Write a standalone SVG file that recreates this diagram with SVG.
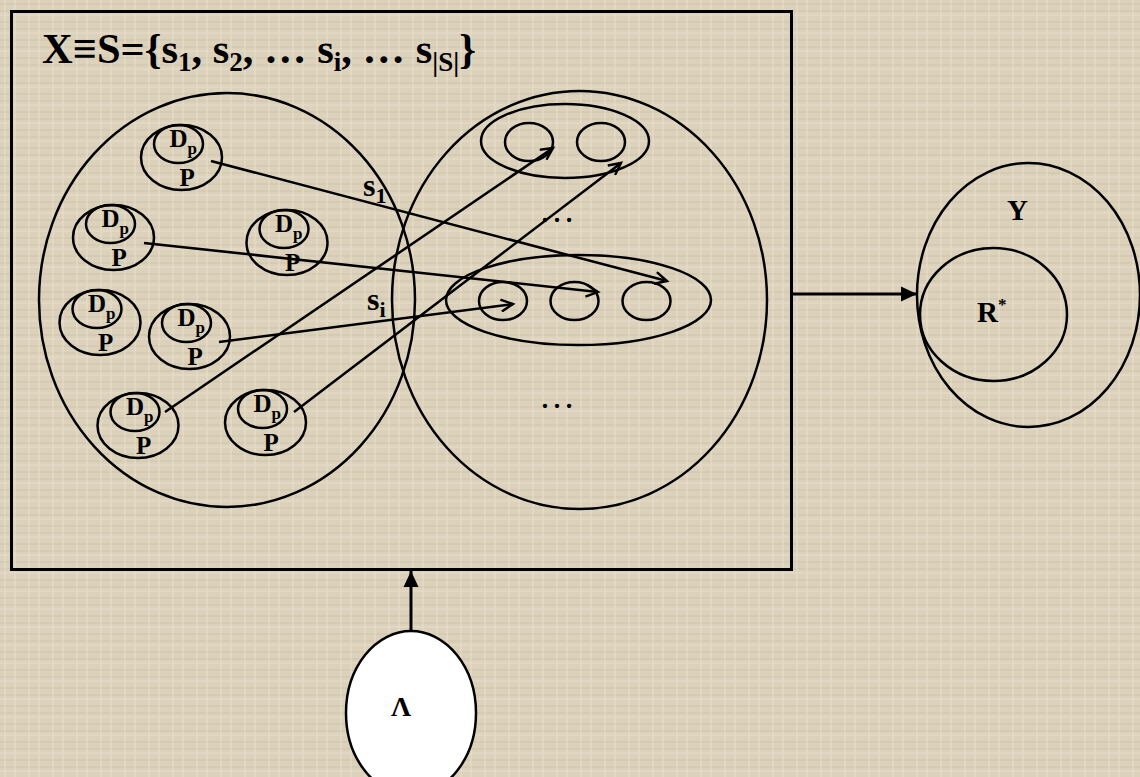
<svg xmlns="http://www.w3.org/2000/svg" width="1140" height="777" viewBox="0 0 1140 777">
  <defs>
    <pattern id="tex" width="24" height="18" patternUnits="userSpaceOnUse">
      <rect width="24" height="18" fill="#dcd2bc"/>
      <path d="M0,4 H24 M0,11 H24" stroke="#cfc4ab" stroke-width="1"/>
      <path d="M5,0 V18 M15,0 V18" stroke="#e8dfcc" stroke-width="1"/>
      <path d="M0,15 H24" stroke="#e6ddca" stroke-width="1"/>
    </pattern>
    <marker id="open" markerUnits="userSpaceOnUse" markerWidth="16" markerHeight="14" refX="13" refY="7" orient="auto">
      <path d="M1,1 L13,7 L1,13" fill="none" stroke="#000" stroke-width="2.4"/>
    </marker>
    <marker id="solid" markerUnits="userSpaceOnUse" markerWidth="18" markerHeight="16" refX="16" refY="8" orient="auto">
      <path d="M0,0.5 L16,8 L0,15.5 Z" fill="#000"/>
    </marker>
  </defs>
  <style>
    .ln { fill: none; stroke: #000; stroke-width: 2.5; }
    .thick { fill: none; stroke: #000; stroke-width: 3; }
    .t { font-family: "Liberation Serif", "Times New Roman", serif; font-weight: bold; fill: #000; }
    .title { font-size: 42.5px; }
    .sub { font-size: 27px; }
    .nd { font-size: 25px; }
    .nds { font-size: 17px; }
    .lbl { font-size: 32px; }
    .lbls { font-size: 22px; }
    .dots { font-family: "Liberation Serif", "Times New Roman", serif; font-size: 36px; fill: #000; }
  </style>

  <rect width="1140" height="777" fill="url(#tex)"/>

  <g id="frame">
    <rect x="11.5" y="11.5" width="780" height="558" class="thick"/>
    <text class="t title" x="42" y="63">X≡S={s<tspan class="sub" dy="8">1</tspan><tspan dy="-8">, s</tspan><tspan class="sub" dy="8">2</tspan><tspan dy="-8">, … s</tspan><tspan class="sub" dy="8">i</tspan><tspan dy="-8">, … s</tspan><tspan class="sub" dy="8">|S|</tspan><tspan dy="-8">}</tspan></text>
  </g>

  <g id="set-left">
    <ellipse cx="227" cy="300" rx="188" ry="207" class="ln"/>
  </g>

  <g id="set-right">
    <ellipse cx="579.5" cy="300" rx="187.5" ry="209" class="ln"/>
    <text class="dots" x="539" y="222">…</text>
    <text class="dots" x="539" y="408">…</text>
  </g>

  <g id="group-top">
    <ellipse cx="565" cy="141" rx="84" ry="37" class="ln"/>
    <ellipse cx="529" cy="142" rx="24" ry="19" class="ln"/>
    <ellipse cx="601" cy="142" rx="24" ry="19" class="ln"/>
  </g>

  <g id="group-mid">
    <ellipse cx="578.5" cy="300" rx="132.5" ry="45" class="ln"/>
    <ellipse cx="503" cy="301" rx="24" ry="19" class="ln"/>
    <ellipse cx="574.5" cy="301" rx="24" ry="19" class="ln"/>
    <ellipse cx="646.5" cy="301" rx="24" ry="19" class="ln"/>
  </g>

  <g id="node-1" transform="translate(181.5,157.5)">
    <ellipse cx="0" cy="0" rx="40.5" ry="32.5" class="ln"/>
    <ellipse cx="-3" cy="-13.5" rx="24.5" ry="19" class="ln"/>
    <text class="t nd" x="-12" y="-10.5">D<tspan class="nds" dy="7">p</tspan></text>
    <text class="t nd" x="-2" y="28.5">P</text>
  </g>
  <g id="node-2" transform="translate(113.5,237.5)">
    <ellipse cx="0" cy="0" rx="40.5" ry="32.5" class="ln"/>
    <ellipse cx="-3" cy="-13.5" rx="24.5" ry="19" class="ln"/>
    <text class="t nd" x="-12" y="-10.5">D<tspan class="nds" dy="7">p</tspan></text>
    <text class="t nd" x="-2" y="28.5">P</text>
  </g>
  <g id="node-3" transform="translate(287,242.5)">
    <ellipse cx="0" cy="0" rx="40.5" ry="32.5" class="ln"/>
    <ellipse cx="-3" cy="-13.5" rx="24.5" ry="19" class="ln"/>
    <text class="t nd" x="-12" y="-10.5">D<tspan class="nds" dy="7">p</tspan></text>
    <text class="t nd" x="-2" y="28.5">P</text>
  </g>
  <g id="node-4" transform="translate(100,322.5)">
    <ellipse cx="0" cy="0" rx="40.5" ry="32.5" class="ln"/>
    <ellipse cx="-3" cy="-13.5" rx="24.5" ry="19" class="ln"/>
    <text class="t nd" x="-12" y="-10.5">D<tspan class="nds" dy="7">p</tspan></text>
    <text class="t nd" x="-2" y="28.5">P</text>
  </g>
  <g id="node-5" transform="translate(189.5,336.5)">
    <ellipse cx="0" cy="0" rx="40.5" ry="32.5" class="ln"/>
    <ellipse cx="-3" cy="-13.5" rx="24.5" ry="19" class="ln"/>
    <text class="t nd" x="-12" y="-10.5">D<tspan class="nds" dy="7">p</tspan></text>
    <text class="t nd" x="-2" y="28.5">P</text>
  </g>
  <g id="node-6" transform="translate(138,425.5)">
    <ellipse cx="0" cy="0" rx="40.5" ry="32.5" class="ln"/>
    <ellipse cx="-3" cy="-13.5" rx="24.5" ry="19" class="ln"/>
    <text class="t nd" x="-12" y="-10.5">D<tspan class="nds" dy="7">p</tspan></text>
    <text class="t nd" x="-2" y="28.5">P</text>
  </g>
  <g id="node-7" transform="translate(265.5,422.5)">
    <ellipse cx="0" cy="0" rx="40.5" ry="32.5" class="ln"/>
    <ellipse cx="-3" cy="-13.5" rx="24.5" ry="19" class="ln"/>
    <text class="t nd" x="-12" y="-10.5">D<tspan class="nds" dy="7">p</tspan></text>
    <text class="t nd" x="-2" y="28.5">P</text>
  </g>

  <g id="node-Y">
    <ellipse cx="1028.5" cy="295" rx="111.5" ry="132" class="ln"/>
    <text class="t" style="font-size:29px" x="1007" y="220">Y</text>
  </g>
  <g id="node-R">
    <ellipse cx="993.5" cy="314.5" rx="73.5" ry="66.5" class="ln"/>
    <text class="t" style="font-size:29px" x="977" y="322">R<tspan style="font-size:17px" dy="-12">*</tspan></text>
  </g>

  <g id="node-Lambda">
    <ellipse cx="411" cy="713" rx="65" ry="82" fill="#fff" stroke="#000" stroke-width="2.5"/>
    <text class="t" style="font-size:28px" x="391" y="716">Λ</text>
  </g>

  <g id="connectors">
    <line x1="211" y1="161" x2="667" y2="281" class="ln" marker-end="url(#open)"/>
    <line x1="144" y1="243" x2="598" y2="292" class="ln" marker-end="url(#open)"/>
    <line x1="219" y1="342" x2="513" y2="304" class="ln" marker-end="url(#open)"/>
    <line x1="165" y1="412" x2="553" y2="148" class="ln" marker-end="url(#open)"/>
    <line x1="294" y1="412" x2="621" y2="163" class="ln" marker-end="url(#open)"/>
    <line x1="793" y1="294" x2="917" y2="294" class="thick" marker-end="url(#solid)"/>
    <line x1="411" y1="631" x2="411" y2="571" class="thick" marker-end="url(#solid)"/>
    <text class="t lbl" x="363" y="196">s<tspan class="lbls" dy="7">1</tspan></text>
    <text class="t lbl" x="367" y="310">s<tspan class="lbls" dy="7">i</tspan></text>
  </g>
</svg>
